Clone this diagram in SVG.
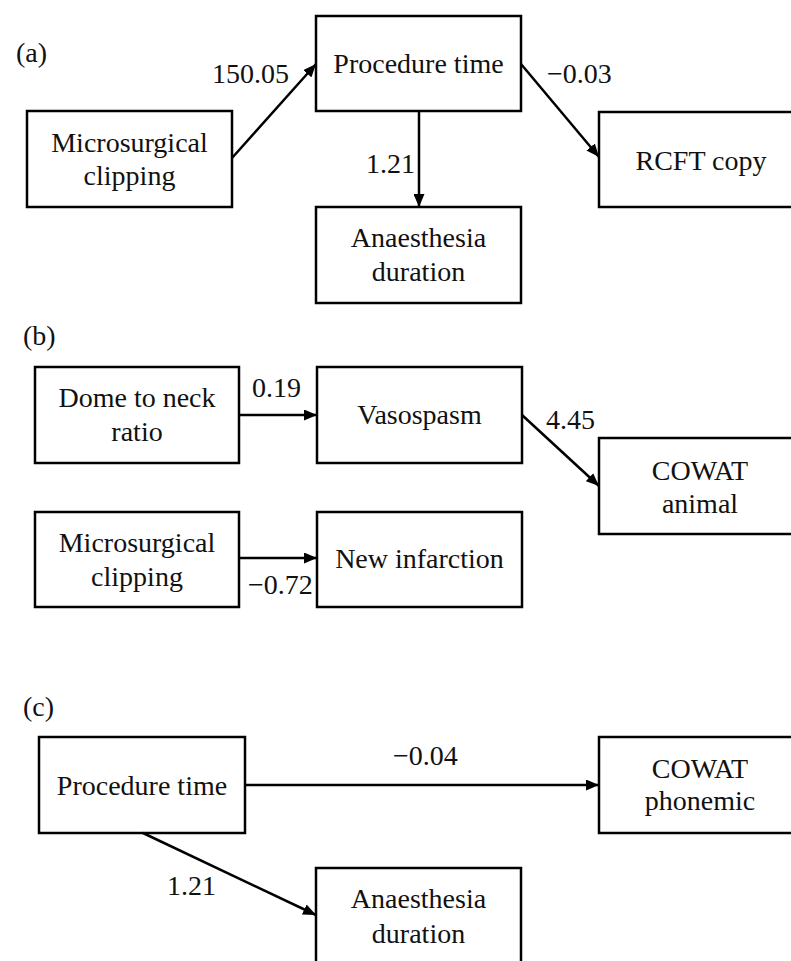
<svg xmlns="http://www.w3.org/2000/svg" width="791" height="961" viewBox="0 0 791 961">
<style>
text{font-family:"Liberation Serif","Tinos","Times New Roman","Noto Serif","DejaVu Serif",serif;font-size:28px;fill:#111}
.box{fill:#fff;stroke:#000;stroke-width:2.5}
.c{text-anchor:middle}
.e{text-anchor:end}
.ln{stroke:#000;stroke-width:2.5;fill:none;marker-end:url(#ah)}
</style>
<defs>
<marker id="ah" markerUnits="userSpaceOnUse" markerWidth="13" markerHeight="11" refX="13" refY="5.5" orient="auto">
<path d="M0,0 L13,5.5 L0,11 Z" fill="#000"/>
</marker>
</defs>
<rect width="791" height="961" fill="#fff"/>
<text x="16" y="62">(a)</text>
<text x="23" y="345">(b)</text>
<text x="23" y="716">(c)</text>

<g id="a-clip"><rect class="box" x="27" y="111" width="205" height="96"/><text class="c" x="129.5" y="152">Microsurgical</text><text class="c" x="129.5" y="185">clipping</text></g>
<g id="a-proc"><rect class="box" x="316" y="16" width="205" height="95"/><text class="c" x="418.5" y="73">Procedure time</text></g>
<g id="a-anaes"><rect class="box" x="316" y="207" width="205" height="96"/><text class="c" x="418.5" y="247">Anaesthesia</text><text class="c" x="418.5" y="281">duration</text></g>
<g id="a-rcft"><rect class="box" x="599" y="112" width="205" height="95"/><text class="c" x="701" y="170">RCFT copy</text></g>

<g id="b-dome"><rect class="box" x="35" y="367" width="204" height="96"/><text class="c" x="137" y="407">Dome to neck</text><text class="c" x="137" y="441">ratio</text></g>
<g id="b-vaso"><rect class="box" x="317" y="367" width="205" height="96"/><text class="c" x="419.5" y="424">Vasospasm</text></g>
<g id="b-clip"><rect class="box" x="35" y="512" width="204" height="95"/><text class="c" x="137" y="552">Microsurgical</text><text class="c" x="137" y="586">clipping</text></g>
<g id="b-infarct"><rect class="box" x="317" y="512" width="205" height="95"/><text class="c" x="419.5" y="568">New infarction</text></g>
<g id="b-cowat"><rect class="box" x="599" y="438" width="205" height="96"/><text class="c" x="700" y="480">COWAT</text><text class="c" x="700" y="513">animal</text></g>

<g id="c-proc"><rect class="box" x="39" y="737" width="206" height="96"/><text class="c" x="142" y="795">Procedure time</text></g>
<g id="c-cowat"><rect class="box" x="599" y="737" width="205" height="96"/><text class="c" x="700" y="778">COWAT</text><text class="c" x="700" y="810">phonemic</text></g>
<g id="c-anaes"><rect class="box" x="316" y="868" width="205" height="96"/><text class="c" x="418.5" y="908">Anaesthesia</text><text class="c" x="418.5" y="943">duration</text></g>

<g id="connectors">
<line class="ln" x1="232" y1="158" x2="316" y2="64"/>
<line class="ln" x1="419" y1="111" x2="419" y2="207"/>
<line class="ln" x1="521" y1="64" x2="599" y2="157"/>
<line class="ln" x1="239" y1="415" x2="317" y2="415"/>
<line class="ln" x1="522" y1="415" x2="599" y2="486"/>
<line class="ln" x1="239" y1="558" x2="317" y2="558"/>
<line class="ln" x1="245" y1="785" x2="599" y2="785"/>
<line class="ln" x1="143" y1="833" x2="316" y2="915"/>
<text x="212" y="83">150.05</text>
<text x="547" y="83">−0.03</text>
<text class="e" x="415" y="173">1.21</text>
<text x="252" y="397">0.19</text>
<text x="546" y="429">4.45</text>
<text x="248" y="594">−0.72</text>
<text x="393" y="765">−0.04</text>
<text x="167" y="895">1.21</text>
</g>
</svg>
